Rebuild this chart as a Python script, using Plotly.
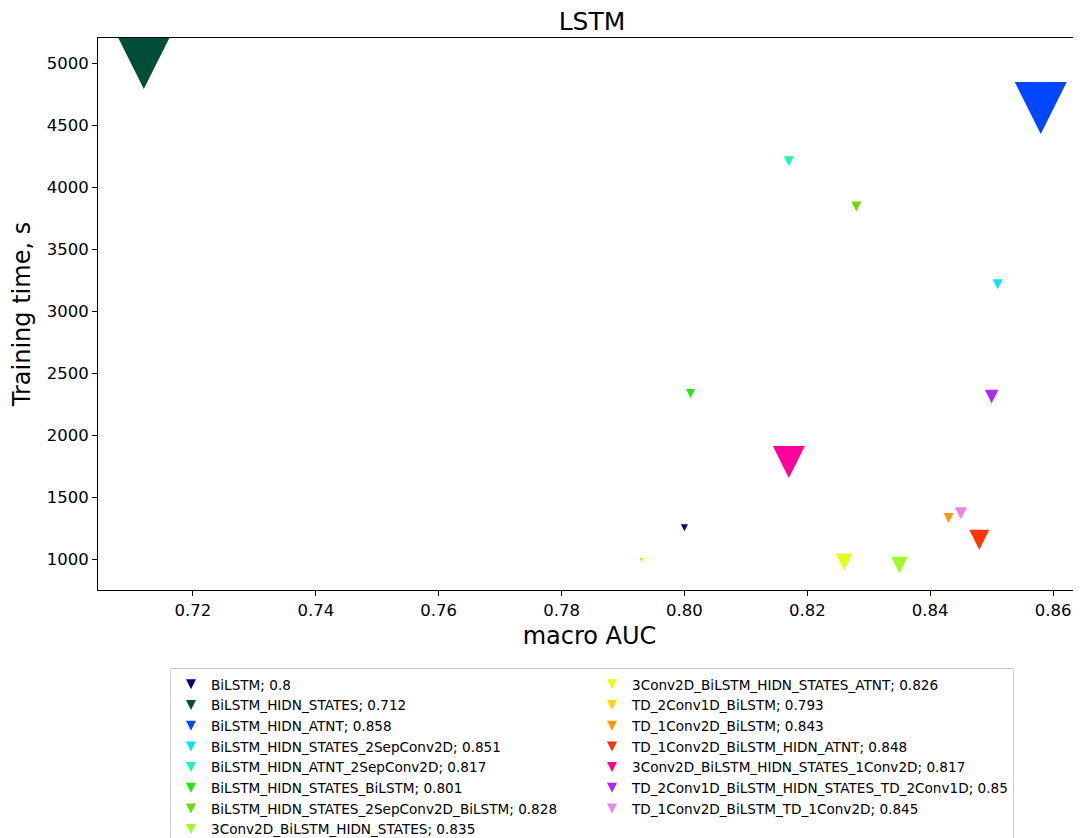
import plotly.graph_objects as go

# ---- data ----
models = [
    "BiLSTM", "BiLSTM_HIDN_STATES", "BiLSTM_HIDN_ATNT", "BiLSTM_HIDN_STATES_2SepConv2D",
    "BiLSTM_HIDN_ATNT_2SepConv2D", "BiLSTM_HIDN_STATES_BiLSTM",
    "BiLSTM_HIDN_STATES_2SepConv2D_BiLSTM", "3Conv2D_BiLSTM_HIDN_STATES",
    "3Conv2D_BiLSTM_HIDN_STATES_ATNT", "TD_2Conv1D_BiLSTM", "TD_1Conv2D_BiLSTM",
    "TD_1Conv2D_BiLSTM_HIDN_ATNT", "3Conv2D_BiLSTM_HIDN_STATES_1Conv2D",
    "TD_2Conv1D_BiLSTM_HIDN_STATES_TD_2Conv1D", "TD_1Conv2D_BiLSTM_TD_1Conv2D",
]
macro_auc = [0.8, 0.712, 0.858, 0.851, 0.817, 0.801, 0.828, 0.835,
             0.826, 0.793, 0.843, 0.848, 0.817, 0.85, 0.845]
training_time = [1252, 5000, 4638, 3216, 4207, 2334, 3844, 952,
                 976, 992, 1330, 1156, 1782, 2310, 1368]
x_ticks = [0.72, 0.74, 0.76, 0.78, 0.80, 0.82, 0.84, 0.86]
y_ticks = [1000, 1500, 2000, 2500, 3000, 3500, 4000, 4500, 5000]

# ---- styles ----
colors = ["#000080", "#004d38", "#0047ff", "#00e5ff", "#1ef5b4", "#14f000",
          "#6bdc00", "#9cfc24", "#e6ff1a", "#ffd700", "#ff9900", "#ff3300",
          "#ff0099", "#b026ff", "#ee82ee"]
marker_px = [7, 52, 52, 10, 10, 9, 10, 16.5, 17, 4, 10, 20, 32, 13.5, 12]
legend_px = 10
FONT = "DejaVu Sans"

# the page body has an 8px margin, so the figure is laid out 8px up/left
W, H = 1073, 830

fig = go.Figure()

# data markers (downward triangles centred on the point)
for i in range(len(models)):
    fig.add_trace(go.Scatter(
        x=[macro_auc[i]], y=[training_time[i]], mode="markers",
        marker=dict(symbol="arrow-down", size=marker_px[i], color=colors[i],
                    standoff=marker_px[i] / 2, line=dict(width=0)),
        showlegend=False, legendgroup=models[i],
        name=f"{models[i]}; {macro_auc[i]}",
    ))

# legend entries: column-major order for a 2-column horizontal legend
n = len(models)
half = (n + 1) // 2
order = []
for r in range(half):
    order.append(r)
    if r + half < n:
        order.append(r + half)
for i in order:
    fig.add_trace(go.Scatter(
        x=[None], y=[None], mode="markers",
        marker=dict(symbol="arrow-up", angle=180, size=legend_px, color=colors[i],
                    standoff=legend_px / 2, line=dict(width=0)),
        showlegend=True, legendgroup=models[i],
        name=f"{models[i]}; {macro_auc[i]}",
    ))

axis_common = dict(
    showgrid=False, zeroline=False, showline=True, linecolor="black", linewidth=1,
    ticks="outside", ticklen=5, tickwidth=1, tickcolor="black", automargin=False,
    tickfont=dict(family=FONT, size=16.5, color="black"),
)

fig.update_layout(
    width=W, height=H,
    margin=dict(l=90, r=0, t=30, b=248, autoexpand=False),
    plot_bgcolor="white", paper_bgcolor="white",
    font=dict(family=FONT, color="black"),
    title=dict(text="LSTM", font=dict(family=FONT, size=25, color="black"),
               x=584 / W, xref="container", xanchor="center",
               y=1 - 13 / H, yref="container", yanchor="middle"),
    xaxis=dict(range=[0.70454, 0.86455], tickvals=x_ticks, tickformat=".2f",
               mirror=True,
               title=dict(text="macro AUC", font=dict(family=FONT, size=24, color="black"),
                          standoff=8),
               **axis_common),
    yaxis=dict(range=[750, 5202], tickvals=y_ticks,
               title=dict(text="Training time, s", font=dict(family=FONT, size=24, color="black"),
                          standoff=10),
               **axis_common),
    legend=dict(orientation="h", xref="container", yref="container",
                x=162 / W, xanchor="left",
                y=1 - 660 / H, yanchor="top",
                entrywidth=376, entrywidthmode="pixels",
                font=dict(family=FONT, size=13.6, color="black"),
                bgcolor="white", bordercolor="#cccccc", borderwidth=1,
                traceorder="normal", itemsizing="trace"),
)

fig.write_html("out.html")
